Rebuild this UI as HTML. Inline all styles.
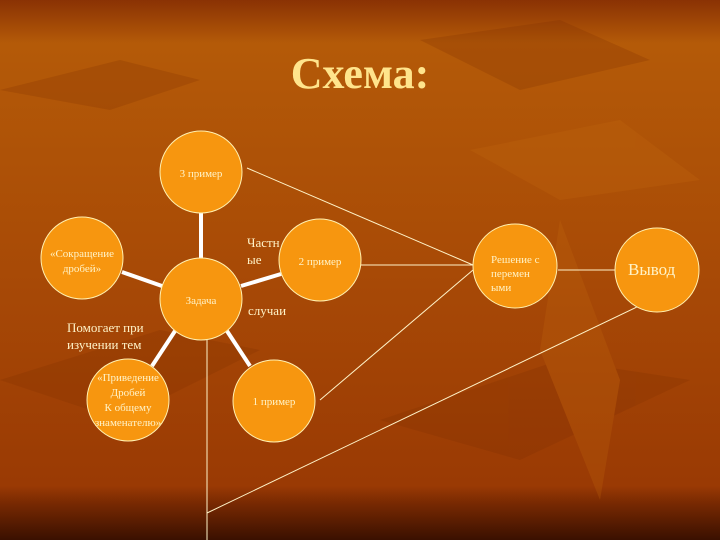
<!DOCTYPE html>
<html><head><meta charset="utf-8"><style>
html,body{margin:0;padding:0;}
body{width:720px;height:540px;overflow:hidden;background:#a8480a;}
svg{display:block;}
text{font-family:"Liberation Serif","DejaVu Serif",serif;fill:#fff3c8;}
</style></head><body>
<svg width="720" height="540" viewBox="0 0 720 540" xmlns="http://www.w3.org/2000/svg">
<defs>
<linearGradient id="bg" x1="0" y1="0" x2="0" y2="1">
<stop offset="0" stop-color="#8a3204"/>
<stop offset="0.08" stop-color="#b45a08"/>
<stop offset="0.5" stop-color="#a84a06"/>
<stop offset="0.9" stop-color="#9a3a04"/>
<stop offset="0.93" stop-color="#7a2a02"/>
<stop offset="1" stop-color="#3a1000"/>
</linearGradient>
</defs>
<rect width="720" height="540" fill="url(#bg)"/>
<g opacity="0.22">
<path d="M0 90 L120 60 L200 80 L110 110 Z" fill="#7a2c02"/>
<path d="M420 40 L560 20 L650 60 L520 90 Z" fill="#7a2c02"/>
<path d="M470 150 L620 120 L700 180 L560 200 Z" fill="#c86e10"/>
<path d="M0 380 L160 330 L260 350 L120 420 Z" fill="#7a2c02"/>
<path d="M380 420 L560 360 L690 380 L520 460 Z" fill="#7a2c02"/>
<path d="M560 220 L620 380 L600 500 L540 350 Z" fill="#c86e10"/>
</g>
<text x="360" y="88" text-anchor="middle" font-size="44" font-weight="bold" style="fill:#ffe48c">Схема:</text>
<g stroke="#fff3c8" fill="none" stroke-width="1">
<line x1="247" y1="168" x2="473" y2="265"/>
<line x1="361" y1="265" x2="473" y2="265"/>
<line x1="320" y1="400" x2="473" y2="270"/>
<line x1="558" y1="270" x2="615" y2="270"/>
<polyline points="207,339 207,540"/>
<line x1="207" y1="513" x2="641" y2="305"/>
</g>
<g stroke="#ffffff" stroke-width="4">
<line x1="201" y1="213" x2="201" y2="258"/>
<line x1="122" y1="272" x2="162" y2="286"/>
<line x1="241" y1="286" x2="281" y2="274"/>
<line x1="175" y1="331" x2="152" y2="366"/>
<line x1="227" y1="331" x2="250" y2="366"/>
</g>
<g fill="#f7960f" stroke="#fff0b0" stroke-width="1">
<circle cx="201" cy="172" r="41"/>
<circle cx="82" cy="258" r="41"/>
<circle cx="201" cy="299" r="41"/>
<circle cx="320" cy="260" r="41"/>
<circle cx="128" cy="400" r="41"/>
<circle cx="274" cy="401" r="41"/>
<circle cx="515" cy="266" r="42"/>
<circle cx="657" cy="270" r="42"/>
</g>
<g font-size="11">
<text x="201" y="177" text-anchor="middle">3 пример</text>
<text x="82" y="257" text-anchor="middle">«Сокращение</text>
<text x="82" y="272" text-anchor="middle">дробей»</text>
<text x="201" y="304" text-anchor="middle">Задача</text>
<text x="320" y="265" text-anchor="middle">2 пример</text>
<text x="128" y="381" text-anchor="middle">«Приведение</text>
<text x="128" y="396" text-anchor="middle">Дробей</text>
<text x="128" y="411" text-anchor="middle">К общему</text>
<text x="128" y="426" text-anchor="middle">знаменателю»</text>
<text x="274" y="405" text-anchor="middle">1 пример</text>
<text x="491" y="263">Решение с</text>
<text x="491" y="277">перемен</text>
<text x="491" y="291">ыми</text>
</g>
<g font-size="13">
<text x="247" y="247">Частн</text>
<text x="247" y="264">ые</text>
<text x="248" y="315">случаи</text>
<text x="67" y="332">Помогает при</text>
<text x="67" y="349">изучении тем</text>
</g>
<text x="628" y="275" font-size="17">Вывод</text>
</svg>
</body></html>
